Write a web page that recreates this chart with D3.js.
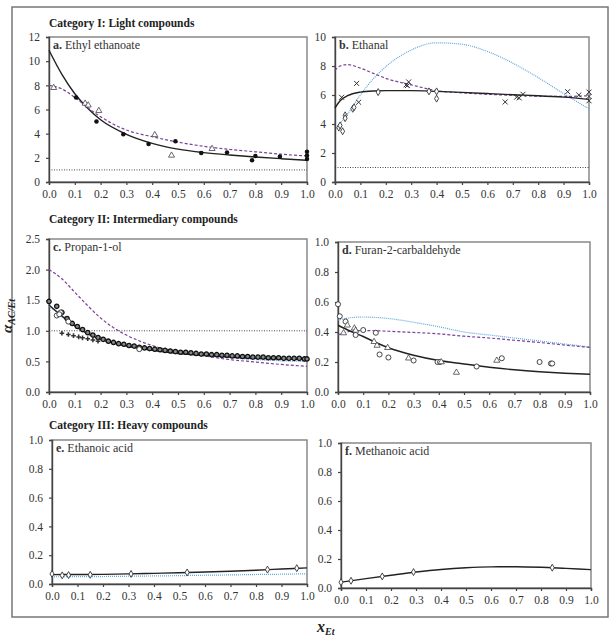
<!DOCTYPE html>
<html>
<head>
<meta charset="utf-8">
<script src="https://cdn.jsdelivr.net/npm/d3@7"></script>
<style>
  body { margin: 0; background: #fff; }
  svg text { font-family: "Liberation Serif", "DejaVu Serif", serif; }
</style>
</head>
<body>
<svg id="chart"></svg>
<script>
// ---- data ----
var xTicks = [0, 0.1, 0.2, 0.3, 0.4, 0.5, 0.6, 0.7, 0.8, 0.9, 1.0];

// a. Ethyl ethanoate
var aX = [0, 0.05, 0.1, 0.15, 0.2, 0.3, 0.4, 0.5, 0.6, 0.7, 0.8, 0.9, 1.0];
var aSolid = [10.9, 8.9, 7.3, 6.1, 5.15, 3.95, 3.2, 2.72, 2.43, 2.23, 2.07, 1.93, 1.8];
var aDashed = [8.0, 7.7, 7.0, 6.15, 5.4, 4.3, 3.75, 3.3, 2.95, 2.7, 2.5, 2.3, 2.15];
var aDots = [[0.105, 7.0], [0.184, 5.0], [0.288, 3.95], [0.386, 3.15], [0.49, 3.37], [0.59, 2.4],
             [0.69, 2.45], [0.787, 1.8], [0.80, 2.15], [0.895, 2.1], [1.0, 2.5], [1.0, 2.2], [1.0, 1.9]];
var aTriangles = [[0.018, 7.8], [0.14, 6.5], [0.152, 6.35], [0.193, 5.9], [0.41, 3.9], [0.475, 2.2], [0.632, 2.75]];

// b. Ethanal
var bX = [0, 0.02, 0.05, 0.1, 0.15, 0.2, 0.3, 0.4, 0.5, 0.6, 0.7, 0.8, 0.9, 1.0];
var bSolid = [5.1, 5.6, 5.95, 6.2, 6.28, 6.3, 6.3, 6.25, 6.18, 6.1, 6.02, 5.95, 5.85, 5.7];
var bDashed = [7.7, 8.0, 8.1, 7.85, 7.5, 7.15, 6.7, 6.3, 6.15, 6.05, 5.98, 5.92, 5.9, 5.95];
var bBlueX = [0.005, 0.05, 0.1, 0.15, 0.2, 0.3, 0.4, 0.5, 0.6, 0.7, 0.8, 0.9, 1.0];
var bBlue = [3.7, 4.7, 6.0, 7.1, 7.95, 9.1, 9.6, 9.5, 9.0, 8.2, 7.2, 6.1, 5.05];
var bCrosses = [[0.026, 5.84], [0.085, 6.8], [0.093, 5.5], [0.28, 6.7], [0.29, 6.9], [0.285, 6.65],
                [0.67, 5.52], [0.715, 5.85], [0.725, 5.8], [0.74, 6.05], [0.916, 6.23], [0.96, 6.0],
                [1.0, 6.2], [1.0, 5.9], [1.0, 5.6]];
var bDiamonds = [[0.015, 3.75], [0.02, 3.9], [0.03, 3.5], [0.04, 4.6], [0.04, 4.4], [0.07, 5.05],
                 [0.075, 5.15], [0.17, 6.2], [0.37, 6.25], [0.4, 6.25], [0.4, 5.75]];

// c. Propan-1-ol
var cX = [0, 0.05, 0.1, 0.15, 0.2, 0.25, 0.3, 0.4, 0.5, 0.6, 0.7, 0.8, 0.9, 1.0];
var cSolid = [1.42, 1.24, 1.08, 0.95, 0.86, 0.80, 0.75, 0.68, 0.63, 0.60, 0.57, 0.55, 0.54, 0.53];
var cDashed = [2.0, 1.85, 1.63, 1.41, 1.21, 1.05, 0.93, 0.76, 0.66, 0.59, 0.53, 0.49, 0.45, 0.42];
var cBlue = [1.40, 1.25, 1.11, 0.99, 0.90, 0.83, 0.77, 0.69, 0.64, 0.60, 0.56, 0.53, 0.51, 0.50];
var cDense = [[0.00, 1.48], [0.03, 1.40], [0.05, 1.30], [0.07, 1.20], [0.09, 1.12], [0.11, 1.07],
              [0.13, 1.02], [0.15, 0.97], [0.17, 0.93], [0.19, 0.89], [0.21, 0.86], [0.23, 0.83],
              [0.25, 0.81], [0.27, 0.79], [0.29, 0.78], [0.31, 0.76], [0.33, 0.75], [0.35, 0.73],
              [0.37, 0.72], [0.39, 0.71], [0.41, 0.70], [0.43, 0.69], [0.45, 0.68], [0.47, 0.67],
              [0.49, 0.66], [0.51, 0.65], [0.53, 0.65], [0.55, 0.64], [0.57, 0.63], [0.59, 0.62],
              [0.61, 0.62], [0.63, 0.61], [0.65, 0.61], [0.67, 0.60], [0.69, 0.60], [0.71, 0.59],
              [0.73, 0.59], [0.75, 0.58], [0.77, 0.58], [0.79, 0.57], [0.81, 0.57], [0.83, 0.57],
              [0.85, 0.56], [0.87, 0.56], [0.89, 0.56], [0.91, 0.55], [0.93, 0.55], [0.95, 0.55],
              [0.97, 0.55], [0.99, 0.54], [1.0, 0.54]];
var cOpen = [[0.03, 1.25], [0.045, 1.3], [0.04, 1.27], [0.075, 1.15], [0.35, 0.70]];
var cPlus = [[0.05, 0.96], [0.075, 0.94], [0.095, 0.92], [0.115, 0.90], [0.13, 0.885], [0.15, 0.87],
             [0.17, 0.85], [0.19, 0.83]];

// d. Furan-2-carbaldehyde
var dX = [0, 0.05, 0.1, 0.15, 0.2, 0.3, 0.4, 0.5, 0.6, 0.7, 0.8, 0.9, 1.0];
var dSolid = [0.445, 0.405, 0.37, 0.33, 0.295, 0.245, 0.21, 0.187, 0.165, 0.148, 0.135, 0.125, 0.118];
var dBlue = [0.48, 0.495, 0.5, 0.497, 0.49, 0.465, 0.435, 0.4, 0.38, 0.36, 0.34, 0.32, 0.30];
var dDashed = [0.38, 0.405, 0.41, 0.408, 0.405, 0.397, 0.388, 0.372, 0.36, 0.345, 0.33, 0.313, 0.297];
var dCircles = [[0, 0.585], [0.007, 0.505], [0.03, 0.47], [0.07, 0.38], [0.1, 0.413], [0.15, 0.395],
                [0.165, 0.25], [0.2, 0.23], [0.3, 0.21], [0.395, 0.2], [0.405, 0.2], [0.55, 0.17],
                [0.65, 0.225], [0.8, 0.2], [0.845, 0.19], [0.85, 0.19]];
var dTriangles = [[0.022, 0.393], [0.037, 0.445], [0.065, 0.425], [0.07, 0.41], [0.143, 0.335], [0.155, 0.31],
                  [0.197, 0.295], [0.28, 0.225], [0.41, 0.2], [0.47, 0.13], [0.63, 0.21]];

// e. Ethanoic acid
var eX = [0, 0.1, 0.2, 0.3, 0.4, 0.5, 0.6, 0.7, 0.8, 0.9, 1.0];
var eSolid = [0.065, 0.066, 0.067, 0.07, 0.074, 0.078, 0.083, 0.089, 0.096, 0.104, 0.112];
var eBlue = [0.05, 0.051, 0.052, 0.054, 0.056, 0.058, 0.061, 0.063, 0.066, 0.068, 0.071];
var eDiamonds = [[0, 0.07], [0.04, 0.06], [0.065, 0.062], [0.15, 0.064], [0.31, 0.07], [0.53, 0.08], [0.845, 0.1], [0.96, 0.11]];

// f. Methanoic acid
var fX = [0, 0.1, 0.2, 0.3, 0.4, 0.5, 0.6, 0.7, 0.8, 0.9, 1.0];
var fSolid = [0.04, 0.065, 0.088, 0.11, 0.128, 0.14, 0.146, 0.147, 0.143, 0.135, 0.127];
var fDiamonds = [[0, 0.04], [0.04, 0.05], [0.165, 0.08], [0.29, 0.11], [0.845, 0.14]];

var purple = "#7b3f9e", blue = "#5ea6dc", black = "#222";
var serif = "'Liberation Serif', 'DejaVu Serif', serif";

var svg = d3.select("#chart").attr("width", 614).attr("height", 640);

// outer frame
svg.append("rect")
    .attr("x", 12).attr("y", 7).attr("width", 596).attr("height", 610)
    .attr("fill", "none").attr("stroke", "#777").attr("stroke-width", 1.5);

var panels = [
  {label: "a.", name: "Ethyl ethanoate", box: [49, 37, 307, 182], ymax: 12, yticks: [0, 2, 4, 6, 8, 10, 12], fmt: d3.format("d"),
   lines: [{x: aX, y: aSolid, kind: "solid"}, {x: aX, y: aDashed, kind: "dashed"}],
   marks: [{pts: aDots, kind: "dot"}, {pts: aTriangles, kind: "tri"}], unity: true},
  {label: "b.", name: "Ethanal", box: [335, 37, 589, 182], ymax: 10, yticks: [0, 2, 4, 6, 8, 10], fmt: d3.format("d"),
   lines: [{x: bBlueX, y: bBlue, kind: "blue"}, {x: bX, y: bDashed, kind: "dashed"}, {x: bX, y: bSolid, kind: "solid"}],
   marks: [{pts: bCrosses, kind: "cross"}, {pts: bDiamonds, kind: "diamond"}], unity: true},
  {label: "c.", name: "Propan-1-ol", box: [49, 239, 307, 392], ymax: 2.5, yticks: [0, 0.5, 1, 1.5, 2, 2.5], fmt: d3.format(".1f"),
   lines: [{x: cX, y: cBlue, kind: "blue"}, {x: cX, y: cDashed, kind: "dashed"}, {x: cX, y: cSolid, kind: "solid"}],
   marks: [{pts: cDense, kind: "dense"}, {pts: cOpen, kind: "circle"}, {pts: cPlus, kind: "plus"}], unity: true},
  {label: "d.", name: "Furan-2-carbaldehyde", box: [338, 242, 590, 392], ymax: 1, yticks: [0, 0.2, 0.4, 0.6, 0.8, 1], fmt: d3.format(".1f"),
   lines: [{x: dX, y: dBlue, kind: "blue"}, {x: dX, y: dDashed, kind: "dashed"}, {x: dX, y: dSolid, kind: "solid"}],
   marks: [{pts: dCircles, kind: "circle"}, {pts: dTriangles, kind: "tri"}], unity: false},
  {label: "e.", name: "Ethanoic acid", box: [52, 440, 307, 584], ymax: 1, yticks: [0, 0.2, 0.4, 0.6, 0.8, 1], fmt: d3.format(".1f"),
   lines: [{x: eX, y: eBlue, kind: "blue"}, {x: eX, y: eSolid, kind: "solid"}],
   marks: [{pts: eDiamonds, kind: "diamond"}], unity: false},
  {label: "f.", name: "Methanoic acid", box: [341, 443, 591, 588], ymax: 1, yticks: [0, 0.2, 0.4, 0.6, 0.8, 1], fmt: d3.format(".1f"),
   lines: [{x: fX, y: fSolid, kind: "solid"}],
   marks: [{pts: fDiamonds, kind: "diamond"}], unity: false}
];

var categories = [
  {text: "Category I: Light compounds", y: 27},
  {text: "Category II: Intermediary compounds", y: 223},
  {text: "Category III: Heavy compounds", y: 429}
];

categories.forEach(function(c) {
  svg.append("text")
     .attr("x", 49).attr("y", c.y)
     .style("font-family", serif)
     .attr("font-size", 11.5).attr("font-weight", "bold").attr("fill", "#222")
     .text(c.text);
});

panels.forEach(function(p) {
  var x0 = p.box[0], y0 = p.box[1], x1 = p.box[2], y1 = p.box[3];
  var xScale = d3.scaleLinear().domain([0, 1]).range([x0, x1]);
  var yScale = d3.scaleLinear().domain([0, p.ymax]).range([y1, y0]);
  var g = svg.append("g");

  // plot frame
  g.append("rect")
   .attr("x", x0).attr("y", y0).attr("width", x1 - x0).attr("height", y1 - y0)
   .attr("fill", "none").attr("stroke", "#808080").attr("stroke-width", 1.4);

  var yAxis = g.append("g")
     .attr("transform", "translate(" + x0 + ",0)")
     .call(d3.axisLeft(yScale).tickValues(p.yticks).tickFormat(p.fmt).tickSize(3).tickPadding(6));
  var xAxis = g.append("g")
     .attr("transform", "translate(0," + y1 + ")")
     .call(d3.axisBottom(xScale).tickValues(xTicks).tickFormat(d3.format(".1f")).tickSize(3).tickPadding(5));
  [yAxis, xAxis].forEach(function(ax) {
    ax.attr("font-family", null);
    ax.select(".domain").attr("stroke", "#444").attr("stroke-width", 1.4);
    ax.selectAll(".tick line").attr("stroke", "#444").attr("stroke-width", 1.2);
    ax.selectAll("text").style("font-family", serif).attr("font-size", 11.5).attr("fill", "#333");
  });

  if (p.unity) {
    g.append("line")
     .attr("x1", x0).attr("x2", x1).attr("y1", yScale(1)).attr("y2", yScale(1))
     .attr("stroke", "#333").attr("stroke-width", 0.9).attr("stroke-dasharray", "1,1.5");
  }

  var line = d3.line().x(d => xScale(d[0])).y(d => yScale(d[1])).curve(d3.curveMonotoneX);
  p.lines.forEach(function(l) {
    var pts = l.x.map((v, i) => [v, l.y[i]]);
    var path = g.append("path").datum(pts).attr("d", line).attr("fill", "none");
    if (l.kind == "solid") path.attr("stroke", black).attr("stroke-width", 1.4);
    if (l.kind == "dashed") path.attr("stroke", purple).attr("stroke-width", 1.2).attr("stroke-dasharray", "3,2");
    if (l.kind == "blue") path.attr("stroke", blue).attr("stroke-width", 1.2).attr("stroke-dasharray", "1,1");
  });

  p.marks.forEach(function(m) {
    var sel = g.append("g").selectAll("path").data(m.pts).enter().append("path")
       .attr("transform", d => "translate(" + xScale(d[0]) + "," + yScale(d[1]) + ")");
    if (m.kind == "dot") sel.attr("d", d3.symbol(d3.symbolCircle, 16)).attr("fill", "#111");
    if (m.kind == "tri") sel.attr("d", d3.symbol(d3.symbolTriangle, 16)).attr("fill", "#fff").attr("stroke", "#444").attr("stroke-width", 0.8);
    if (m.kind == "cross") sel.attr("d", d3.symbol(d3.symbolTimes, 18)).attr("fill", "none").attr("stroke", "#333").attr("stroke-width", 1);
    if (m.kind == "diamond") sel.attr("d", d3.symbol(d3.symbolDiamond, 14)).attr("fill", "#fff").attr("stroke", "#333").attr("stroke-width", 0.9);
    if (m.kind == "circle") sel.attr("d", d3.symbol(d3.symbolCircle, 20)).attr("fill", "#fff").attr("stroke", "#333").attr("stroke-width", 0.9);
    if (m.kind == "dense") sel.attr("d", d3.symbol(d3.symbolCircle, 15)).attr("fill", "#888").attr("stroke", "#111").attr("stroke-width", 1.3);
    if (m.kind == "plus") sel.attr("d", d3.symbol(d3.symbolCross, 12)).attr("fill", "#333");
  });

  var t = g.append("text").attr("x", x0 + 4).attr("y", y0 + 12)
     .style("font-family", serif).attr("font-size", 12).attr("fill", "#333");
  t.append("tspan").attr("font-weight", "bold").text(p.label);
  t.append("tspan").text(" " + p.name);
});

// axis titles
var ylab = svg.append("text")
    .attr("transform", "translate(12,316) rotate(-90)")
    .style("font-family", serif)
    .attr("text-anchor", "middle").attr("font-weight", "bold").attr("font-style", "italic").attr("fill", "#222");
ylab.append("tspan").attr("font-size", 15).text("\u03b1");
ylab.append("tspan").attr("font-size", 10).attr("dy", 3).text("AC/Et");

var xlab = svg.append("text")
    .attr("x", 317).attr("y", 632)
    .style("font-family", serif)
    .attr("font-weight", "bold").attr("font-style", "italic").attr("fill", "#222");
xlab.append("tspan").attr("font-size", 16).text("x");
xlab.append("tspan").attr("font-size", 10).attr("dy", 3).text("Et");
</script>
</body>
</html>
